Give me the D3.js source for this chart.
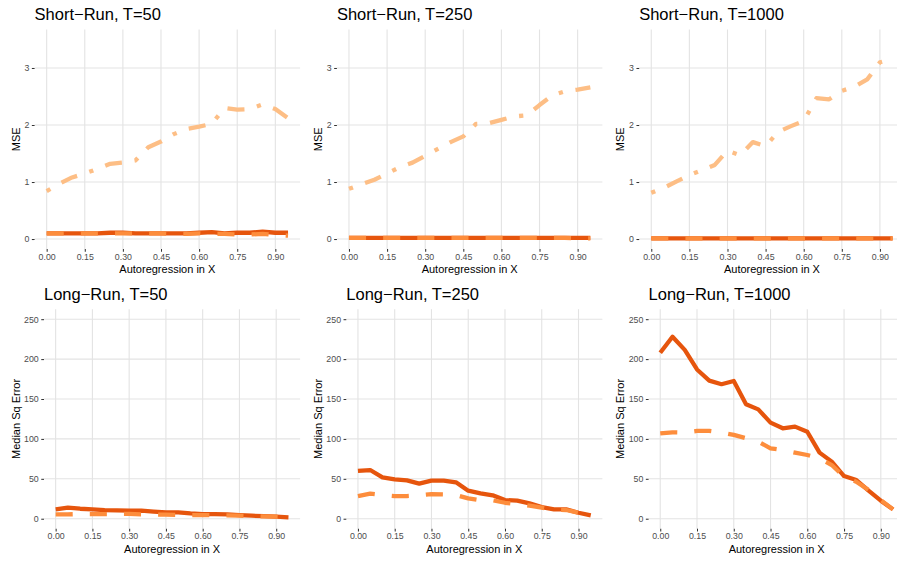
<!DOCTYPE html>
<html><head><meta charset="utf-8">
<script src="https://cdn.jsdelivr.net/npm/d3@7"></script>
<style>body{margin:0;background:#fff;overflow:hidden} svg{display:block;font-family:"Liberation Sans",Arial,Helvetica,sans-serif}</style>
</head><body><svg id="c" width="897" height="562"></svg>
<script>
// ---------- data ----------
const arX = [0.00,0.05,0.10,0.15,0.20,0.25,0.30,0.35,0.40,0.45,0.50,0.55,0.60,0.65,0.70,0.75,0.80,0.85,0.90,0.95];
const xTickVals = [0.00,0.15,0.30,0.45,0.60,0.75,0.90];
const shortYTicks = [0,1,2,3];
const longYTicks = [0,50,100,150,200,250];
const shortTitles = ["Short\u2212Run, T=50","Short\u2212Run, T=250","Short\u2212Run, T=1000"];
const longTitles = ["Long\u2212Run, T=50","Long\u2212Run, T=250","Long\u2212Run, T=1000"];

// Short-run MSE
const shortSolid50   = [0.10,0.10,0.10,0.10,0.10,0.11,0.11,0.10,0.10,0.10,0.10,0.10,0.11,0.12,0.10,0.11,0.11,0.13,0.11,0.11];
const shortDashed50  = [0.10,0.10,0.10,0.10,0.10,0.10,0.10,0.10,0.10,0.10,0.09,0.09,0.10,0.09,0.09,0.08,0.08,0.09,0.07,0.06];
const shortDotdash50 = [0.84,0.97,1.08,1.15,1.23,1.32,1.34,1.38,1.61,1.71,1.84,1.93,1.97,2.02,2.30,2.27,2.28,2.36,2.28,2.12];
const shortSolid250   = [0.02,0.02,0.02,0.02,0.02,0.02,0.02,0.02,0.02,0.02,0.02,0.02,0.02,0.02,0.02,0.02,0.02,0.02,0.02,0.02];
const shortDashed250  = [0.02,0.02,0.02,0.02,0.02,0.02,0.02,0.02,0.02,0.02,0.02,0.02,0.02,0.02,0.02,0.02,0.02,0.02,0.01,0.01];
const shortDotdash250 = [0.88,0.96,1.04,1.15,1.26,1.34,1.46,1.58,1.70,1.80,2.02,2.03,2.09,2.15,2.17,2.35,2.52,2.59,2.62,2.66];
const shortSolid1000   = [0.01,0.01,0.01,0.01,0.01,0.01,0.01,0.01,0.01,0.01,0.01,0.01,0.01,0.01,0.01,0.01,0.01,0.01,0.01,0.01];
const shortDashed1000  = [0.01,0.01,0.01,0.01,0.01,0.01,0.01,0.01,0.01,0.01,0.01,0.01,0.01,0.01,0.01,0.01,0.01,0.01,0.01,0.01];
const shortDotdash1000 = [0.81,0.90,1.01,1.12,1.21,1.30,1.55,1.47,1.70,1.63,1.88,1.98,2.07,2.47,2.45,2.60,2.67,2.80,3.10,3.16];

// Long-run median squared error
const longSolid50   = [11.7,13.8,12.5,11.7,10.9,10.5,10.0,10.0,8.8,7.9,7.9,6.7,5.9,5.9,5.4,4.6,3.8,3.3,2.5,1.7];
const longDashed50  = [5.4,5.4,5.9,5.9,5.9,5.9,6.0,5.4,5.4,5.0,4.6,4.6,4.6,4.2,4.2,3.8,3.3,2.9,2.5,1.7];
const longSolid250  = [59.8,61.0,51.8,49.3,48.0,43.9,47.7,47.7,45.6,35.1,31.8,29.3,23.4,22.6,19.2,14.6,11.7,11.7,7.5,4.2];
const longDashed250 = [28.4,31.4,29.7,28.4,28.4,29.3,30.9,30.5,29.7,25.5,23.0,23.0,20.0,18.4,16.3,13.8,11.3,10.9,7.5,4.2];
const longSolid1000  = [208,228,211.5,187,173,168.5,172.6,143.4,137,120.4,113.3,115.4,109,82.8,71.5,53.5,48.5,35.1,22.6,11.7];
const longDashed1000 = [107,108.3,107.9,110,110,108,105,100.8,96.6,88.2,86,82.8,79.8,75.7,67.3,52.7,46.4,36,23.4,11.7];

const shortSeries = [
  [shortSolid50, shortDashed50, shortDotdash50],
  [shortSolid250, shortDashed250, shortDotdash250],
  [shortSolid1000, shortDashed1000, shortDotdash1000]
];
const longSeries = [
  [longSolid50, longDashed50],
  [longSolid250, longDashed250],
  [longSolid1000, longDashed1000]
];

// ---------- style ----------
const LW = 4.27;
const styles = [
  {color:"#e6550d", dash:null},
  {color:"#fd8d3c", dash:[4*LW,4*LW].join(",")},
  {color:"#fdbe85", dash:[1*LW,3*LW,4*LW,3*LW].join(",")}
];
const colPitch = 302.3;
const svg = d3.select("#c");

function panel(col, row, seriesList, yTicks, yDomain, title, yTitle) {
  const off = col*colPitch;
  const L = off + (row===0 ? 34.6 : 44.0);
  const R = off + 300.1;
  const T = row===0 ? 29.5 : 309.2;
  const B = row===0 ? 249.0 : 528.7;
  const x = d3.scaleLinear().domain([-0.0475, 0.9975]).range([L, R]);
  const y = d3.scaleLinear().domain(yDomain).range([B, T]);
  const g = svg.append("g");

  // grid
  g.append("g").selectAll("line.v").data(xTickVals).join("line")
    .attr("x1", d=>x(d)).attr("x2", d=>x(d)).attr("y1", T).attr("y2", B)
    .attr("stroke", "#e3e3e3").attr("stroke-width", 1.1);
  g.append("g").selectAll("line.h").data(yTicks).join("line")
    .attr("x1", L).attr("x2", R).attr("y1", d=>y(d)).attr("y2", d=>y(d))
    .attr("stroke", "#e3e3e3").attr("stroke-width", 1.1);

  // axes
  const ax = g.append("g").attr("transform", `translate(0,${B})`)
    .call(d3.axisBottom(x).tickValues(xTickVals).tickFormat(d3.format(".2f")).tickSize(2.75).tickPadding(1.8));
  const ay = g.append("g").attr("transform", `translate(${L},0)`)
    .call(d3.axisLeft(y).tickValues(yTicks).tickFormat(d3.format("d")).tickSize(2.75).tickPadding(2.5));
  [ax, ay].forEach(a => {
    a.select(".domain").remove();
    a.selectAll(".tick line").attr("stroke", "#333").attr("stroke-width", 1.05);
    a.selectAll(".tick text").attr("fill", "#4d4d4d").style("font-size", "8.8px")
      .style("font-family", '"Liberation Sans",Arial,sans-serif');
  });

  // lines
  const line = d3.line().x((d,i)=>x(arX[i])).y(d=>y(d));
  seriesList.forEach((vals, k) => {
    g.append("path").attr("d", line(vals))
      .attr("fill", "none").attr("stroke", styles[k].color)
      .attr("stroke-width", LW).attr("stroke-linecap", "butt").attr("stroke-linejoin", "round")
      .attr("stroke-dasharray", styles[k].dash);
  });

  // titles
  g.append("text").attr("x", L).attr("y", row===0 ? 20 : 299.7)
    .style("font-size", "16.5px").attr("fill", "#000").text(title);
  g.append("text").attr("x", (L+R)/2).attr("y", row===0 ? 273 : 552.7)
    .attr("text-anchor", "middle").style("font-size", "11px").attr("fill", "#000")
    .text("Autoregression in X");
  g.append("text").attr("transform", `translate(${off+19.8},${(T+B)/2}) rotate(-90)`)
    .attr("text-anchor", "middle").style("font-size", "11px").attr("fill", "#000")
    .text(yTitle);
}

for (let c = 0; c < 3; c++) {
  panel(c, 0, shortSeries[c], shortYTicks, [-0.175, 3.675], shortTitles[c], "MSE");
  panel(c, 1, longSeries[c], longYTicks, [-12.5, 262.5], longTitles[c], "Median Sq Error");
}
</script></body></html>
